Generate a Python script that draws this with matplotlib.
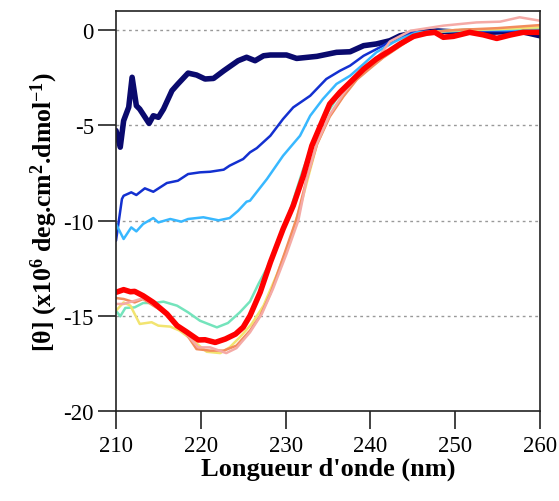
import matplotlib
matplotlib.use("Agg")
import matplotlib.pyplot as plt

plt.rcParams['font.family'] = ['Liberation Serif', 'DejaVu Serif']
plt.rcParams['axes.unicode_minus'] = False
plt.rcParams['mathtext.fontset'] = 'custom'
plt.rcParams['mathtext.rm'] = 'Liberation Serif:bold'
plt.rcParams['mathtext.bf'] = 'Liberation Serif:bold'
plt.rcParams['mathtext.default'] = 'regular'

# ---- data ----
navy_x = [210, 210.5, 210.9, 211.5, 211.9, 212.4, 212.8, 213.9, 214.4, 215, 215.6, 216.6, 217.3, 218.5,
          219.5, 220.5, 221.5, 222.7, 224.4, 225.4, 226.4, 227.4, 228.2, 230.1, 231.3, 233.7, 236,
          237.6, 239.2, 240.7, 242.3, 243.5, 245.5, 248, 250, 252, 254, 256, 258, 260]
navy_y = [-5.28, -6.15, -4.76, -4.05, -2.48, -3.97, -4.15, -4.9, -4.5, -4.58, -4.15, -3.18, -2.83, -2.26,
          -2.36, -2.57, -2.54, -2.14, -1.61, -1.43, -1.61, -1.35, -1.31, -1.31, -1.49, -1.38, -1.17,
          -1.14, -0.82, -0.73, -0.56, -0.3, -0.12, -0.05, -0.1, -0.05, -0.12, -0.08, -0.1, -0.3]

blue_x = [210, 210.7, 210.9, 211.8, 212.4, 213.4, 214.4, 216, 217.3, 218.5, 219.9, 221.1, 222.7, 223.4,
          225, 225.8, 226.6, 228.2, 229.7, 230.9, 232.9, 234.8, 236.4, 237.6, 239.2, 241.5, 242.5,
          244.7, 248, 252, 256, 260]
blue_y = [-11.06, -8.87, -8.7, -8.52, -8.66, -8.31, -8.49, -8.03, -7.91, -7.56, -7.47, -7.44, -7.33, -7.12,
          -6.77, -6.42, -6.2, -5.55, -4.67, -4.06, -3.45, -2.57, -2.14, -1.87, -1.35, -0.82, -0.55,
          -0.12, -0.08, -0.05, -0.05, 0.0]

sky_x = [210, 210.9, 211.8, 212.4, 213.2, 214.4, 215, 216.4, 217.7, 218.5, 220.3, 222.1, 223.4, 224.4,
         225.4, 225.8, 227.8, 229.7, 231.7, 232.9, 234.4, 236, 237.6, 239.2, 240.7, 242.7, 243.5,
         245.5, 248, 252, 256, 260]
sky_y = [-10.18, -10.97, -10.36, -10.57, -10.18, -9.87, -10.1, -9.92, -10.06, -9.92, -9.83, -9.99, -9.87,
         -9.49, -9.01, -8.96, -7.82, -6.6, -5.55, -4.5, -3.62, -2.83, -2.4, -1.78, -1.17, -0.65, -0.47,
         -0.12, -0.05, 0.0, 0.0, 0.1]

aqua_x = [210, 210.5, 211.1, 212.2, 213.2, 214.4, 215.6, 217.2, 218.5, 219.9, 221.9, 223.2, 224.6, 225.8,
          226.8, 227.8, 229, 230.5, 232, 234, 236, 238, 240, 242, 244, 246, 250, 255, 260]
aqua_y = [-14.73, -15.03, -14.59, -14.56, -14.33, -14.33, -14.26, -14.47, -14.82, -15.26, -15.61, -15.38,
          -14.82, -14.25, -13.33, -12.5, -11.3, -9.5, -7.4, -5.0, -3.6, -2.6, -1.8, -1.15, -0.5, -0.15,
          -0.05, 0.05, 0.1]

yellow_x = [210, 210.9, 211.7, 212.8, 214.2, 215, 216.4, 217.5, 219.1, 220.7, 222.3, 223.4, 224.6, 226,
            227.4, 229, 230.5, 231.9, 233.7, 235.2, 236.8, 238.4, 240, 241.5, 243.5, 244.7, 246.6,
            250, 255, 260]
yellow_y = [-14.73, -14.3, -14.47, -15.43, -15.34, -15.52, -15.57, -15.78, -16.31, -16.89, -16.96, -16.66,
            -16.13, -15.43, -14.47, -12.81, -11.06, -9.0, -6.0, -4.5, -3.45, -2.57, -1.96, -1.43, -0.82,
            -0.47, -0.12, 0.0, 0.05, 0.15]

orange_x = [210, 210.9, 212.2, 213.2, 214.4, 216, 217.2, 218.3, 219.5, 221.1, 222.7, 224.2, 225.8, 227,
            228.2, 229.7, 231.3, 232.5, 233.7, 235.2, 236.8, 238.4, 240, 241.5, 243.5, 245, 247, 250,
            255, 260]
orange_y = [-14.07, -14.12, -14.3, -14.12, -14.47, -14.9, -15.43, -15.96, -16.75, -16.83, -16.83, -16.57,
            -15.78, -15.0, -13.85, -11.95, -9.9, -7.8, -6.0, -4.55, -3.5, -2.6, -2.0, -1.45, -0.85,
            -0.4, -0.12, 0.0, 0.1, 0.26]

pink_x = [210, 210.9, 212, 213.2, 214.4, 216, 217.2, 218.5, 219.7, 221.1, 223, 224.2, 225.8, 227.2,
          228.5, 230.1, 231.5, 232.5, 233.7, 235.2, 236.8, 238.4, 240, 241.5, 242.3, 244.7, 248.6,
          252.5, 255.3, 257.6, 260]
pink_y = [-14.38, -14.38, -14.24, -14.08, -14.4, -14.97, -15.53, -16.05, -16.66, -16.66, -16.96, -16.7,
          -15.87, -14.9, -13.6, -11.76, -10.0, -7.8, -5.95, -4.45, -3.35, -2.45, -1.8, -1.1, -0.6,
          -0.04, 0.23, 0.4, 0.44, 0.67, 0.49]

red_x = [210, 210.9, 211.7, 212.2, 213.2, 214.4, 216, 217.2, 218.3, 219.7, 220.5, 221.7, 222.9, 224.1,
         225, 225.8, 227, 228.2, 229.7, 230.9, 232.1, 233.1, 234.1, 235.2, 236.4, 237.6, 239.2, 240.7,
         242.3, 243.5, 245.1, 246.6, 247.6, 248.6, 249.8, 251.7, 253.3, 254.9, 256.5, 258, 260]
red_y = [-13.77, -13.63, -13.74, -13.72, -13.95, -14.3, -14.9, -15.52, -15.84, -16.27, -16.26, -16.4,
         -16.22, -15.96, -15.6, -15.0, -13.77, -12.2, -10.45, -9.22, -7.65, -6.07, -5.02, -3.88, -3.27,
         -2.75, -2.05, -1.52, -1.08, -0.73, -0.33, -0.17, -0.12, -0.38, -0.33, -0.12, -0.25, -0.44,
         -0.26, -0.12, -0.12]

series = [
    (navy_x, navy_y, '#0a0a6e', 4.0),
    (blue_x, blue_y, '#1330d0', 1.8),
    (sky_x, sky_y, '#38b8ff', 1.8),
    (aqua_x, aqua_y, '#74e4bc', 1.8),
    (yellow_x, yellow_y, '#f2e470', 1.8),
    (orange_x, orange_y, '#f28c5c', 1.8),
    (pink_x, pink_y, '#f5aaa6', 1.8),
    (red_x, red_y, '#ff0000', 4.0),
]

xticks = [210, 220, 230, 240, 250, 260]
yticks = [0, -5, -10, -15, -20]
grid_levels = [0, -5, -10, -15]

fig = plt.figure(figsize=(5.59, 5.02), dpi=100)
ax = fig.add_axes([116/559, 90/502, 424/559, 400/502])

for g in grid_levels:
    ax.axhline(g, color='#999999', lw=1.0, ls=(0, (2, 2.5)), zorder=0)

for xs, ys, c, lw in series:
    ax.plot(xs, ys, color=c, lw=lw, solid_joinstyle='round', solid_capstyle='round')

ax.set_xlim(210, 260)
ax.set_ylim(-20, 1.0)
ax.set_xticks(xticks)
ax.set_yticks(yticks)
ax.set_yticklabels([str(t) for t in yticks])
ax.tick_params(direction='out', length=13, width=1.2, labelsize=16.5, color='#222222')
ax.tick_params(axis='x', pad=4)
ax.tick_params(axis='y', pad=3)
for s in ax.spines.values():
    s.set_linewidth(1.2)
    s.set_color('#222222')

ax.set_xlabel("Longueur d'onde (nm)", fontsize=19, fontweight='bold', labelpad=1)
ax.set_ylabel(r"[θ] (x10$^{6}$ deg.cm$^{2}$.dmol$^{-1}$)", fontsize=18.5, fontweight='bold', labelpad=2)

fig.savefig('out.png', dpi=100)
